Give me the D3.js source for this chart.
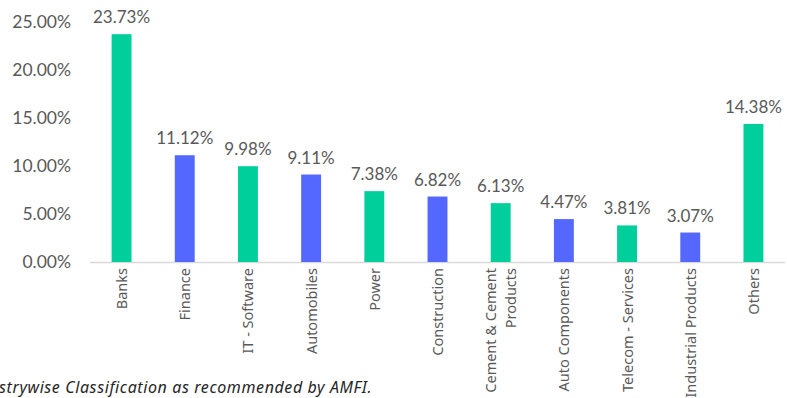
<!DOCTYPE html>
<html><head><meta charset="utf-8">
<script src="https://cdn.jsdelivr.net/npm/d3@7"></script>
<style>body{margin:0;background:#fff}svg{display:block}</style>
</head><body>
<svg id="c" width="787" height="398"></svg>
<script>
const categories = ["Banks","Finance","IT - Software","Automobiles","Power","Construction","Cement & Cement|Products","Auto Components","Telecom - Services","Industrial Products","Others"];
const values = [23.73,11.12,9.98,9.11,7.38,6.82,6.13,4.47,3.81,3.07,14.38];
const colors = ["#00CF9C","#5468FF"];
const yTicks = [0,5,10,15,20,25];
const footnote = "strywise Classification as recommended by AMFI.";

const svg = d3.select("#c");
const x = d3.scaleBand().domain(categories).range([90,785]).paddingInner(0.685).paddingOuter(0.342);
const y = d3.scaleLinear().domain([0,25]).range([262,22]);

svg.append("line").attr("x1",90).attr("x2",785).attr("y1",y(0)+0.5).attr("y2",y(0)+0.5)
  .attr("stroke","#d9d9d9").attr("stroke-width",1.5);

svg.append("g").selectAll("text").data(yTicks).join("text")
  .attr("x",71).attr("y",d=>y(d)).attr("dy","0.36em").attr("text-anchor","end")
  .attr("font-family","Lato, sans-serif").attr("font-size",17.5).attr("fill","#595959")
  .text(d=>d.toFixed(2)+"%");

svg.append("g").selectAll("text").data(values).join("text")
  .attr("x",(d,i)=>x(categories[i])+x.bandwidth()/2).attr("y",d=>y(d)-11)
  .attr("text-anchor","middle").attr("font-family","Lato, sans-serif").attr("font-size",17).attr("fill","#595959")
  .text(d=>d.toFixed(2)+"%");

svg.append("g").selectAll("rect").data(values).join("rect")
  .attr("x",(d,i)=>x(categories[i])).attr("width",x.bandwidth())
  .attr("y",d=>y(d)).attr("height",d=>y(0)-y(d))
  .attr("fill",(d,i)=>colors[i%2]);

const cl = svg.append("g").selectAll("text").data(categories).join("text")
  .attr("transform",(d,i)=>{const lines=d.split("|");const cx=x(d)+x.bandwidth()/2 + 5.5 - (lines.length-1)*10;return `translate(${cx},268) rotate(-90)`;})
  .attr("text-anchor","end").attr("font-family","'Noto Sans', sans-serif").attr("font-size",14.5)
  .attr("fill","#595959");
cl.each(function(d){
  const lines=d.split("|");
  d3.select(this).selectAll("tspan").data(lines).join("tspan")
    .attr("x",0).attr("y",(l,j)=>j*20).text(l=>l);
});

svg.append("text").attr("x",-1).attr("y",393).attr("font-family","'Noto Sans', sans-serif")
  .attr("font-style","italic").attr("font-size",16).attr("letter-spacing",0.6).attr("fill","#262626").text(footnote);
</script>
</body></html>
